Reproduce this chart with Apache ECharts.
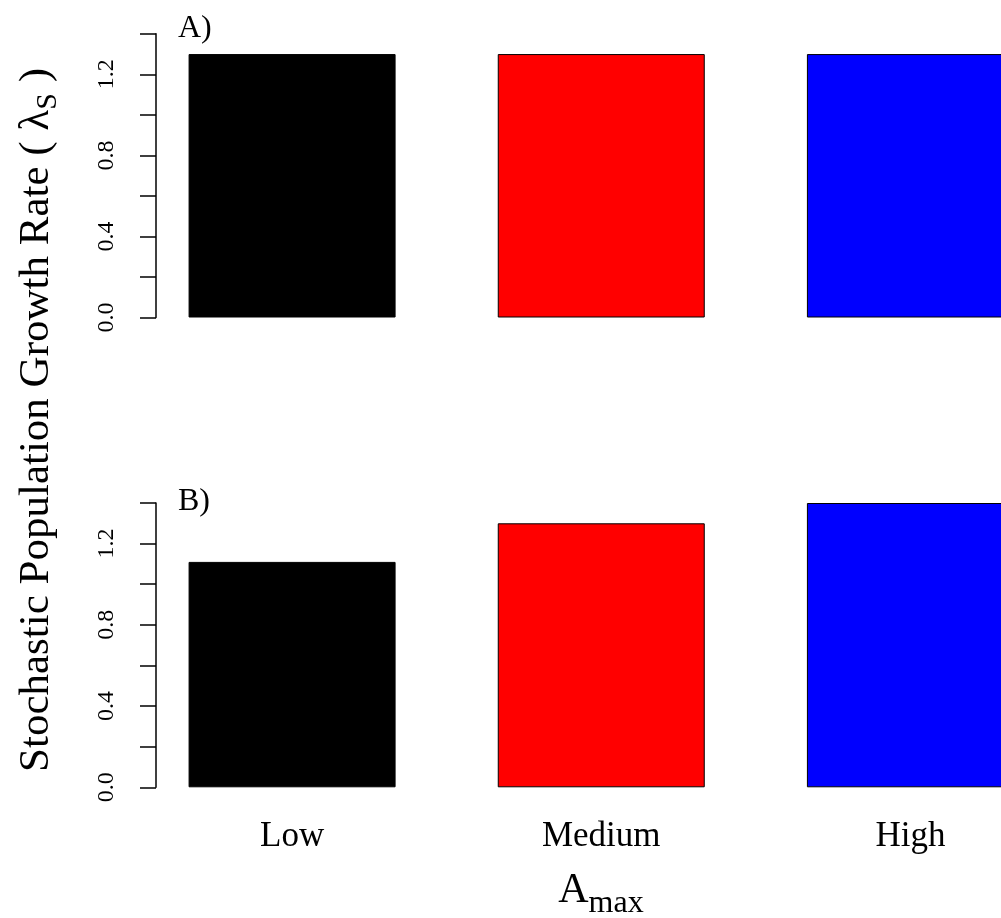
<!DOCTYPE html>
<html>
<head>
<meta charset="utf-8">
<script src="https://cdn.jsdelivr.net/npm/echarts@6/dist/echarts.min.js"></script>
<style>
html,body{margin:0;padding:0;background:#fff;overflow:hidden;width:1001px;height:918px;}
#chart{width:1065px;height:918px;}
</style>
</head>
<body>
<div id="chart"></div>
<script>
const categories = ['Low', 'Medium', 'High'];
const panelAValues = [1.30, 1.30, 1.30];
const panelBValues = [1.11, 1.30, 1.40];
const barColors = ['#000000', '#FF0000', '#0000FF'];
const panelLabels = ['A)', 'B)'];
const yTickMin = 0, yTickMax = 1.4, yTickStep = 0.2;
const labeledTicks = ['0.0', '0.4', '0.8', '1.2'];

const FONT = '"Liberation Serif", "Times New Roman", serif';

function yAxisCfg(gridIndex) {
  return {
    type: 'value', gridIndex: gridIndex,
    min: yTickMin, max: yTickMax, interval: yTickStep,
    offset: -18.5,
    axisLine: { show: true, lineStyle: { color: '#000', width: 1.5 } },
    axisTick: { show: true, length: 16, inside: false, lineStyle: { color: '#000', width: 1.5 } },
    splitLine: { show: false },
    axisLabel: {
      rotate: 90, margin: 37, color: '#000', fontFamily: FONT, fontSize: 24,
      formatter: function (v) { const s = v.toFixed(1); return labeledTicks.indexOf(s) >= 0 ? s : ''; }
    }
  };
}
function xAxisCfg(gridIndex, showLabels) {
  return {
    type: 'category', gridIndex: gridIndex, data: categories,
    boundaryGap: true,
    axisLine: { show: false }, axisTick: { show: false }, splitLine: { show: false },
    axisLabel: { show: showLabels, margin: 32, color: '#000', fontFamily: FONT, fontSize: 35, interval: 0 }
  };
}
function barSeries(idx, values) {
  return {
    type: 'bar', xAxisIndex: idx, yAxisIndex: idx, barWidth: 207,
    data: values.map(function (v, i) {
      return { value: v, itemStyle: { color: barColors[i], borderColor: '#000', borderWidth: 1 } };
    }),
    animation: false
  };
}

const chart = echarts.init(document.getElementById('chart'), null, { renderer: 'canvas' });
chart.setOption({
  backgroundColor: '#ffffff',
  animation: false,
  grid: [
    { left: 137.5, right: 0, top: 33.8, height: 283.7 },
    { left: 137.5, right: 0, top: 503, height: 284.3 }
  ],
  xAxis: [xAxisCfg(0, false), xAxisCfg(1, true)],
  yAxis: [yAxisCfg(0), yAxisCfg(1)],
  series: [barSeries(0, panelAValues), barSeries(1, panelBValues)],
  graphic: [
    { type: 'text', x: 178, y: 29, style: { text: panelLabels[0], font: '32px ' + FONT, fill: '#000', textVerticalAlign: 'middle' } },
    { type: 'text', x: 178, y: 502, style: { text: panelLabels[1], font: '32px ' + FONT, fill: '#000', textVerticalAlign: 'middle' } },
    {
      type: 'text', x: 37, y: 420, rotation: Math.PI / 2,
      style: {
        text: '{a|Stochastic Population Growth Rate ( λ}{s|S}{a| )}',
        align: 'center', verticalAlign: 'middle',
        rich: {
          a: { fontFamily: FONT, fontSize: 43, lineHeight: 52, verticalAlign: 'middle', fill: '#000', color: '#000' },
          s: { fontFamily: FONT, fontSize: 30, verticalAlign: 'bottom', fill: '#000', color: '#000' }
        }
      }
    },
    {
      type: 'text', x: 601, y: 891,
      style: {
        text: '{a|A}{b|max}',
        align: 'center', verticalAlign: 'middle',
        rich: {
          a: { fontFamily: FONT, fontSize: 42, lineHeight: 58, verticalAlign: 'middle', fill: '#000', color: '#000' },
          b: { fontFamily: FONT, fontSize: 32, verticalAlign: 'bottom', fill: '#000', color: '#000' }
        }
      }
    }
  ]
});
</script>
</body>
</html>
